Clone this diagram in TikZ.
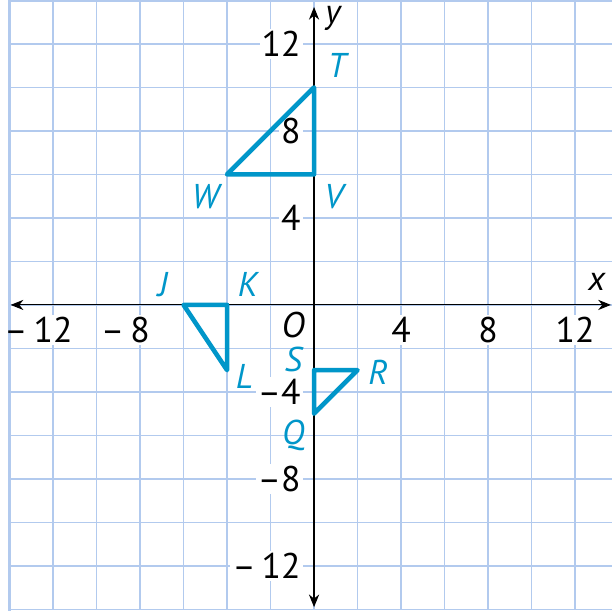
\documentclass[tikz,border=0pt]{standalone}
\usepackage{fontspec}
\setmainfont{PT Sans}
\usetikzlibrary{arrows.meta}
\definecolor{gridblue}{RGB}{178,202,238}
\definecolor{triblue}{RGB}{0,150,201}

\begin{document}
\begin{tikzpicture}[
    x=0.3cm, y=0.3cm,
    font=\fontsize{14}{16}\selectfont,
    gridline/.style={draw=gridblue, line width=0.7pt},
    edge/.style={draw=gridblue, line width=1.3pt},
    axis/.style={draw=black, line width=0.45pt,
                 {Stealth[length=5pt,width=4pt,inset=1.6pt]}-{Stealth[length=5pt,width=4pt,inset=1.6pt]}},
    tri/.style={draw=triblue, line width=1.8pt, line join=round},
    num/.style={fill=white, inner sep=0.8pt},
    vlab/.style={text=triblue, font=\fontsize{13.5}{15}\selectfont\itshape, inner sep=0pt},
    alab/.style={font=\fontsize{13.5}{15}\selectfont\itshape, inner sep=0pt},
  ]
  \useasboundingbox (-14.44,-14.07) rectangle (13.70,14.02);
  \fill[white] (-14.44,-14.07) rectangle (13.70,14.02);

  % grid, one line every 2 units
  \foreach \g in {-12,-10,...,12}
    \draw[gridline] (\g,-14) -- (\g,14.1);
  \foreach \g in {-14,-12,...,12}
    \draw[gridline] (-14,\g) -- (13.8,\g);
  \draw[edge] (-14,-14.1) -- (-14,14.1);
  \draw[edge] (-14,14) -- (13.8,14);

  % axes
  \coordinate (xl) at (-13.95,0);
  \coordinate (xr) at (13.65,0);
  \coordinate (yb) at (0,-13.9);
  \coordinate (yt) at (0,13.7);
  \draw[axis] (xl) -- (xr);
  \draw[axis] (yb) -- (yt);
  \node[alab] (xname) at (13.0,1.05) {x};
  \node[alab] (yname) at (0.87,13.15) {y};
  \node[num, anchor=north east, inner sep=0pt, font=\fontsize{14}{16}\selectfont\itshape] (orig) at (-0.4,-0.3) {O};

  % axis numbers
  \foreach \v/\t/\n in {-12/\llap{–\,}12/m12, -8/\llap{–\,}8/m8, 4/4/p4, 8/8/p8, 12/12/p12}
    \node[num] (x\n) at (\v,-1.15) {\t};
  \foreach \v/\t/\n in {12/12/p12, 8/8/p8, 4/4/p4, -4/–4/m4, -8/–8/m8, -12/–\,12/m12}
    \node[num, anchor=east] (y\n) at (-0.5,\v) {\t};

  % triangle TVW
  \coordinate (T) at (0,10);
  \coordinate (V) at (0,6);
  \coordinate (W) at (-4,6);
  \draw[tri] (T) -- (V) -- (W) -- cycle;
  \node[vlab] (lT) at (1.05,11.0) {T};
  \node[vlab] (lV) at (0.9,5.0) {V};
  \node[vlab] (lW) at (-5.0,5.0) {W};

  % triangle JKL
  \coordinate (J) at (-6,0);
  \coordinate (K) at (-4,0);
  \coordinate (L) at (-4,-3);
  \draw[tri] (J) -- (K) -- (L) -- cycle;
  \node[vlab] (lJ) at (-6.95,0.92) {J};
  \node[vlab] (lK) at (-3.05,0.92) {K};
  \node[vlab] (lL) at (-3.2,-3.3) {L};

  % triangle QRS
  \coordinate (Q) at (0,-5);
  \coordinate (R) at (2,-3);
  \coordinate (S) at (0,-3);
  \draw[tri] (Q) -- (R) -- (S) -- cycle;
  \node[vlab] (lS) at (-0.95,-2.5) {S};
  \node[vlab] (lR) at (2.95,-3.1) {R};
  \node[vlab] (lQ) at (-0.95,-6.0) {Q};
\end{tikzpicture}
\end{document}
